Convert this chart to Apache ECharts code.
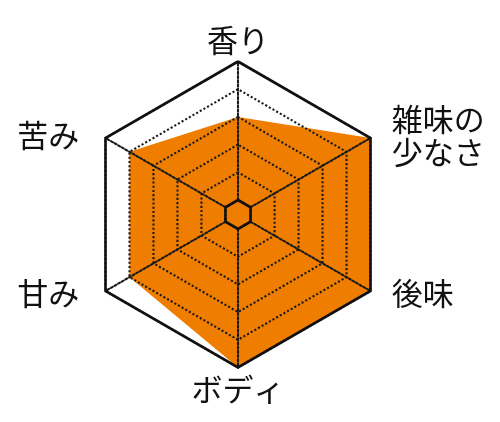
<!DOCTYPE html>
<html>
<head>
<meta charset="utf-8">
<script src="https://cdn.jsdelivr.net/npm/echarts@6/dist/echarts.min.js"></script>
<style>
html,body{margin:0;padding:0;background:#fff;}
#c{width:500px;height:422px;}
</style>
</head>
<body>
<div id="c"></div>
<script>
// Indicators in ECharts order (counter-clockwise from top)
const indicatorNames = ['香り', '苦み', '甘み', 'ボディ', '後味', '雑味の\n少なさ'];
const indicatorMax = 5;
const tasteValues = [3, 4, 4, 5, 5, 5];

const chart = echarts.init(document.getElementById('c'), null, {renderer: 'canvas'});
const center = [238, 214.5];
const radius = [14.5, 153];
const font = '"Noto Sans CJK JP", "Noto Sans", sans-serif';

function labelFmt(name) {
  if (name === '香り' || name === 'ボディ') return '{v|' + name + '}';
  if (name === '苦み' || name === '甘み') return '{l|' + name + '}';
  return '{r|' + name + '}';
}

const indicators = indicatorNames.map(n => ({name: n, min: 0, max: indicatorMax}));

chart.setOption({
  backgroundColor: '#ffffff',
  animation: false,
  radar: [
    {
      z: 3,
      center: center,
      radius: radius,
      shape: 'polygon',
      startAngle: 90,
      splitNumber: 5,
      indicator: indicators,
      nameGap: 5,
      axisName: {
        color: '#111',
        fontFamily: font,
        fontSize: 31,
        lineHeight: 33,
        formatter: labelFmt,
        rich: {
          v: {fontSize: 31, lineHeight: 33, fontFamily: font, color: '#111'},
          l: {fontSize: 31, lineHeight: 33, fontFamily: font, color: '#111', padding: [0, 22, 0, 0]},
          r: {fontSize: 31, lineHeight: 33, fontFamily: font, color: '#111', padding: [0, 0, 0, 17]}
        }
      },
      axisLine: {show: true, lineStyle: {color: '#1a1a1a', width: 2.1, type: [2.1, 2.1]}},
      axisTick: {show: false},
      axisLabel: {show: false},
      splitLine: {show: true, lineStyle: {color: '#1a1a1a', width: 2.1, type: [2.1, 2.1]}},
      splitArea: {show: false}
    },
    {
      z: 4,
      center: center,
      radius: radius,
      shape: 'polygon',
      startAngle: 90,
      splitNumber: 1,
      indicator: indicators,
      axisName: {show: false},
      axisLine: {show: false},
      axisTick: {show: false},
      axisLabel: {show: false},
      splitLine: {show: true, lineStyle: {color: '#111', width: 2.6, type: 'solid'}},
      splitArea: {show: false}
    }
  ],
  series: [{
    type: 'radar',
    radarIndex: 0,
    z: 1,
    symbol: 'none',
    lineStyle: {width: 0, color: '#EF7D00'},
    areaStyle: {color: '#EF7D00', opacity: 1},
    data: [{value: tasteValues, name: 'taste'}]
  }]
});
</script>
</body>
</html>
